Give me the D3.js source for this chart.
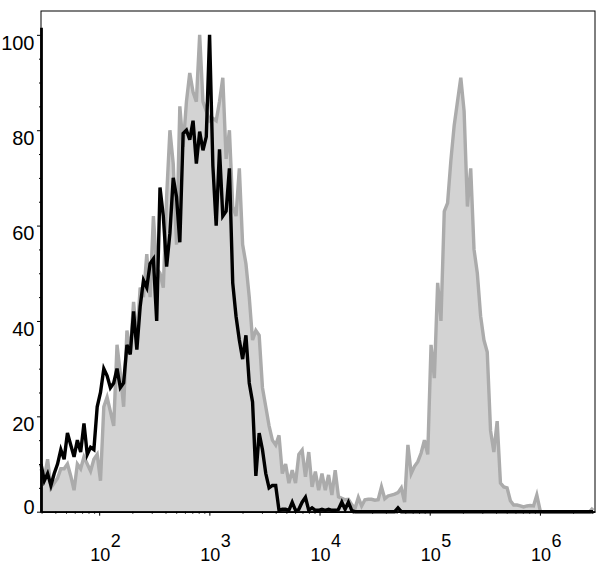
<!DOCTYPE html>
<html><head><meta charset="utf-8">
<script src="https://cdn.jsdelivr.net/npm/d3@7"></script>
<style>body{margin:0;background:#fff}</style>
</head><body><svg id="chart" width="600" height="570"></svg>
<script>
// ---- data (histogram bins on a log grid, values in % of max) ----
const binStartLog = 1.472;
const binStepLog = 0.03;
const greyCounts = [
  9,7,11,5,6,7,9,9,10,7.5,
  4.5,10,9,11.5,10,8.5,11,12,6.5,22,
  24,21,18,35,29,22,38,33,44,36,
  47,45,54,45,62,51,50,47,66,80,
  73,56,85,76.5,86,92,88,86,100,86,
  84,82,82.5,82,86,91,74,80,64,62,
  72,56,52,45,36,38,37,26,22,18,
  15,14,16,8,10,6,8.7,6,12,12.9,
  7.3,12.5,5.2,8.4,4.5,8,4.5,7.7,3.5,8.7,
  3.1,2.8,2.5,2.6,1.5,0.7,3,1.2,2.5,2.6,
  2.6,2.4,2.5,5.2,2.7,3.3,3.5,3.7,4,5,
  2,14,8,9.5,10.5,12.3,15,12,35,28,
  48,40,63,64.7,73.7,81,86,91,84,64,
  72,55,50,41,36,33.5,17,12.5,19,6,
  5.2,5,2.3,1.4,1.4,1.2,1,1.2,1.3,1.2,
  3.5,0.3,0,0,0,0,0,0,0,0,
  0,0,0,0,0,0,0,0.8
];
const blackCounts = [
  10,6.5,8,5.5,8,10,13,11,16.5,14,
  11.5,15,12.5,18.5,12,13.5,13,22,25,30,
  28.5,26,27,30,26,27,35,33,42,34,
  43,48.5,47,52,53,40,68,62,51.4,58.4,
  70,66,56.5,79.3,80,78,82,73,79.7,75.8,
  78.6,100,72.5,60,76,62,63,72,48,41,
  36,32,37,27,23,7.5,16.5,13,8,5,
  5.5,5.5,0.3,0.5,0.5,0.3,2,0.3,0.5,2,
  3,0.3,0.8,0.3,0.3,0.5,0.3,0.5,0.3,0.3,
  0.5,2,0.5,2,0.3,0,0,0,0,0,
  0,0,0,0,0,0,0,0,0.8,0,
  0,0,0,0,0,0,0,0,0,0,
  0,0,0,0,0,0,0,0,0,0,
  0,0,0,0,0,0,0,0,0,0,
  0,0,0,0,0,0,0,0,0,0,
  0,0,0,0,0,0,0,0,0,0,
  0,0,0,0,0,0,0,0
];
const yMajorTicks = [0,20,40,60,80,100];
const yMinorTicks = [5,10,15,25,30,35,45,50,55,65,70,75,85,90,95];
const xDecades = [2,3,4,5,6];
const xDomainLog = [1.472, 6.5];
const yDomain = [0, 105];

// ---- layout ----
const L = 41, R = 595, T = 11, B = 511.7;
const svg = d3.select("#chart");
const x = d3.scaleLog().domain(xDomainLog.map(v => Math.pow(10, v))).range([L, R]);
const y = d3.scaleLinear().domain(yDomain).range([B, T]);
const binX = i => Math.pow(10, binStepLog * i + binStartLog);

const greyData = greyCounts.map((v, i) => ({x: binX(i), v}));
const blackData = blackCounts.map((v, i) => ({x: binX(i), v}));

// grey filled histogram
svg.append("path").datum(greyData)
  .attr("d", d3.area().x(d => x(d.x)).y0(y(0)).y1(d => y(d.v)))
  .attr("fill", "#d3d3d3").attr("stroke", "none");
svg.append("path").datum(greyData)
  .attr("d", d3.line().x(d => x(d.x)).y(d => y(d.v)))
  .attr("fill", "none").attr("stroke", "#ababab").attr("stroke-width", 3.4);

// black histogram line
svg.append("path").datum(blackData)
  .attr("d", d3.line().x(d => x(d.x)).y(d => y(d.v)))
  .attr("fill", "none").attr("stroke", "#000").attr("stroke-width", 3.4);

// frame
svg.append("rect").attr("x", L).attr("y", T).attr("width", R - L).attr("height", B - T)
  .attr("fill", "none").attr("stroke", "#000").attr("stroke-width", 1);

const font = "'Liberation Sans', Arial, sans-serif";

// y axis
const yAxisG = svg.append("g").attr("transform", `translate(${L},0)`);
yAxisG.call(d3.axisLeft(y).tickValues(yMajorTicks).tickSize(4).tickSizeOuter(0));
yAxisG.select(".domain").remove();
yAxisG.selectAll(".tick text")
  .attr("font-family", font).attr("font-size", 20).attr("fill", "#000")
  .attr("x", -6.5)
  .attr("dy", d => d === 0 ? "0.07em" : "0.72em");
yAxisG.selectAll(".tick line").attr("stroke", "#000");
const yMinorG = svg.append("g").attr("transform", `translate(${L},0)`);
yMinorG.call(d3.axisLeft(y).tickValues(yMinorTicks).tickSize(2).tickFormat(""));
yMinorG.select(".domain").remove();
// thick left axis line
svg.append("line").attr("x1", L + 0.5).attr("x2", L + 0.5)
  .attr("y1", y(101.5)).attr("y2", B + 1)
  .attr("stroke", "#000").attr("stroke-width", 2.8);

// x axis
const majorX = xDecades.map(k => Math.pow(10, k));
const minorX = [];
for (let k = 1; k <= 6; k++) for (let m = 2; m <= 9; m++) {
  const v = m * Math.pow(10, k);
  if (v >= x.domain()[0] && v <= x.domain()[1]) minorX.push(v);
}
const xAxisG = svg.append("g").attr("transform", `translate(0,${B})`);
xAxisG.call(d3.axisBottom(x).tickValues(majorX).tickSize(4).tickFormat("").tickSizeOuter(0));
xAxisG.select(".domain").attr("stroke-width", 1.5);
const xMinorG = svg.append("g").attr("transform", `translate(0,${B})`);
xMinorG.call(d3.axisBottom(x).tickValues(minorX).tickSize(2).tickFormat(""));
xMinorG.select(".domain").remove();

// x labels: 10 with superscript exponent
const lab = svg.append("g");
xDecades.forEach(k => {
  const px = x(Math.pow(10, k));
  lab.append("text").attr("x", px + 1).attr("y", 560.5)
    .attr("text-anchor", "middle").attr("font-family", font).attr("font-size", 18)
    .text("10");
  lab.append("text").attr("x", px + 11.5).attr("y", 546.5)
    .attr("text-anchor", "start").attr("font-family", font).attr("font-size", 18)
    .text(String(k));
});
</script></body></html>
